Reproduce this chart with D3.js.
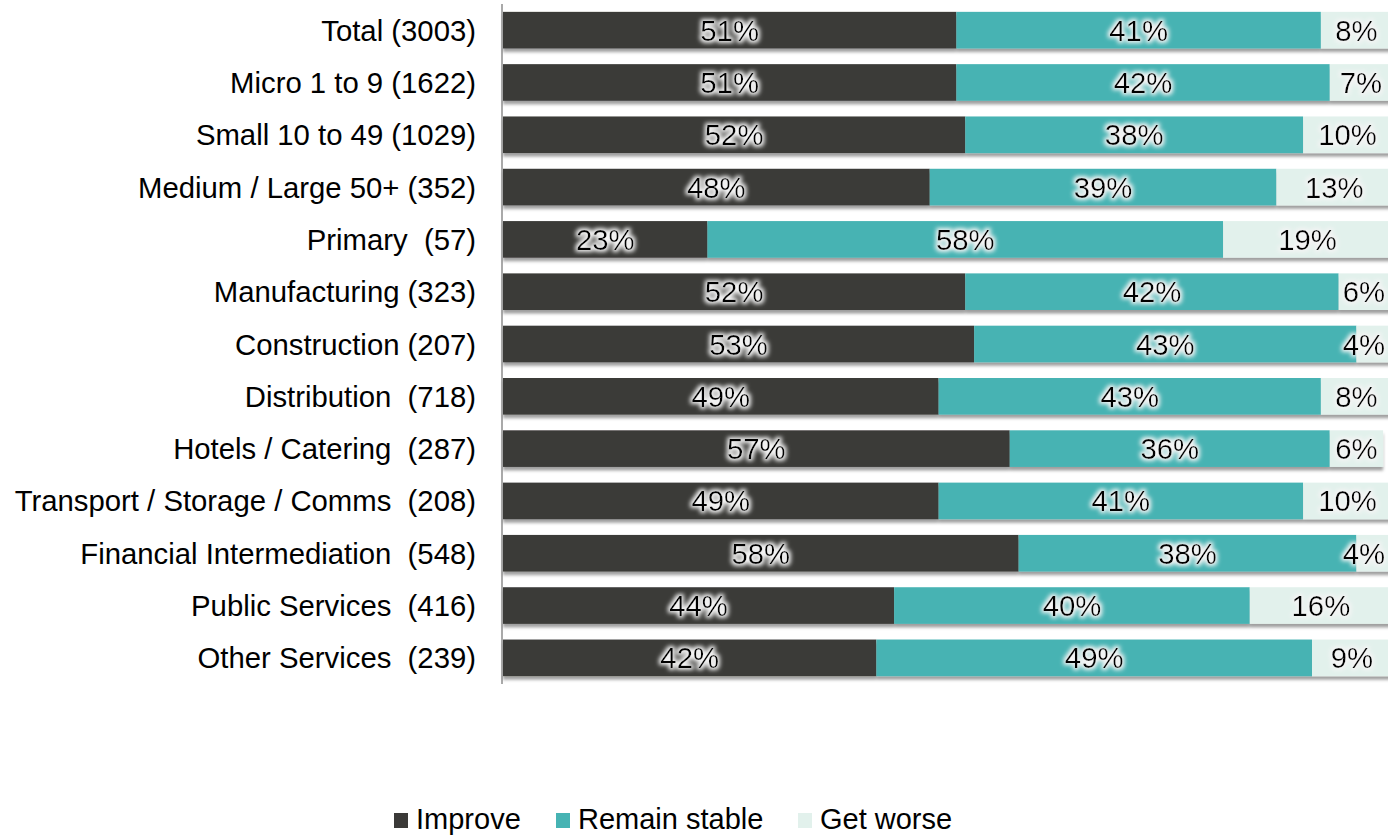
<!DOCTYPE html>
<html>
<head>
<meta charset="utf-8">
<script src="https://cdn.jsdelivr.net/npm/d3@7"></script>
<style>
  html, body { margin: 0; padding: 0; background: #fff; }
  svg { display: block; font-family: "Liberation Sans", Arial, sans-serif; }
</style>
</head>
<body>
<svg id="chart" width="1388" height="837"></svg>
<script>
// Outlook by business size and sector (share of respondents, %)
const categories = [
  "Total (3003)",
  "Micro 1 to 9 (1622)",
  "Small 10 to 49 (1029)",
  "Medium / Large 50+ (352)",
  "Primary  (57)",
  "Manufacturing (323)",
  "Construction (207)",
  "Distribution  (718)",
  "Hotels / Catering  (287)",
  "Transport / Storage / Comms  (208)",
  "Financial Intermediation  (548)",
  "Public Services  (416)",
  "Other Services  (239)"
];
const improve      = [51, 51, 52, 48, 23, 52, 53, 49, 57, 49, 58, 44, 42];
const remainStable = [41, 42, 38, 39, 58, 42, 43, 43, 36, 41, 38, 40, 49];
const getWorse     = [8, 7, 10, 13, 19, 6, 4, 8, 6, 10, 4, 16, 9];

const seriesNames  = ["Improve", "Remain stable", "Get worse"];
const seriesColors = ["#3b3a38", "#46b3b3", "#e2f1ec"];

const W = 1388;
const FONT = 29.3;
const svg = d3.select("#chart");

const rows = categories.map((c, i) => ({
  cat: c, Improve: improve[i], "Remain stable": remainStable[i], "Get worse": getWorse[i]
}));
const stacked = d3.stack().keys(seriesNames)(rows);

const x = d3.scaleLinear().domain([0, 100]).range([503, 1392]);
const y = d3.scaleBand().domain(categories).range([4, 684])
  .paddingInner(0.3).paddingOuter(0.15);

// filters: soft drop shadow under bars, white halo behind labels
const defs = svg.append("defs");
const sh = defs.append("filter").attr("id", "shadow")
  .attr("x", "-5%").attr("y", "-20%").attr("width", "110%").attr("height", "160%");
sh.append("feDropShadow").attr("dx", 0).attr("dy", 3.5)
  .attr("stdDeviation", 1.6).attr("flood-color", "#000").attr("flood-opacity", 0.38);

const glow = defs.append("filter").attr("id", "glow")
  .attr("x", "-20%").attr("y", "-30%").attr("width", "140%").attr("height", "160%");
glow.append("feMorphology").attr("in", "SourceAlpha").attr("operator", "dilate")
  .attr("radius", 1.8).attr("result", "dil");
glow.append("feGaussianBlur").attr("in", "dil").attr("stdDeviation", 2).attr("result", "blur");
glow.append("feFlood").attr("flood-color", "#f4f4f4").attr("flood-opacity", 1).attr("result", "white");
glow.append("feComposite").attr("in", "white").attr("in2", "blur").attr("operator", "in").attr("result", "halo");
const merge = glow.append("feMerge");
merge.append("feMergeNode").attr("in", "halo");
merge.append("feMergeNode").attr("in", "SourceGraphic");

// bars, one group per row so the shadow falls under the whole stacked bar
const barRows = svg.append("g").selectAll("g.row")
  .data(categories).join("g")
  .attr("class", "row")
  .attr("filter", "url(#shadow)");

barRows.each(function(cat, i) {
  const g = d3.select(this);
  stacked.forEach((s, k) => {
    const d = s[i];
    g.append("rect")
      .attr("x", x(d[0]))
      .attr("y", y(cat))
      .attr("width", x(d[1]) - x(d[0]))
      .attr("height", y.bandwidth())
      .attr("fill", seriesColors[k]);
  });
});

// value labels, centred in each segment and kept inside the canvas
const labels = svg.append("g").attr("font-size", FONT).attr("fill", "#000")
  .attr("text-anchor", "middle").attr("filter", "url(#glow)");
stacked.forEach((s) => {
  s.forEach((d, i) => {
    const t = labels.append("text")
      .attr("y", y(categories[i]) + y.bandwidth() / 2)
      .attr("dy", "0.36em")
      .text((d[1] - d[0]) + "%");
    const half = t.node().getComputedTextLength() / 2;
    const cx = Math.min((x(d[0]) + x(d[1])) / 2, W - half - 3);
    t.attr("x", cx);
  });
});

// category axis
const yAxis = d3.axisLeft(y).tickSize(0).tickPadding(26);
const ax = svg.append("g").attr("transform", "translate(502,0)").call(yAxis);
ax.select(".domain").attr("stroke", "#8c8c8c").attr("stroke-width", 1.5)
  .attr("d", `M0,4V684`);
ax.selectAll("text").attr("font-size", FONT).attr("fill", "#000")
  .attr("font-family", "Liberation Sans, Arial, sans-serif")
  .attr("dy", "0.36em")
  .style("white-space", "pre").attr("xml:space", "preserve");

// legend
const legendX = [394, 556, 798];
const legend = svg.append("g").attr("font-size", 29);
seriesNames.forEach((n, k) => {
  const lg = legend.append("g").attr("transform", `translate(${legendX[k]},813)`);
  lg.append("rect").attr("x", 0).attr("y", 0).attr("width", 14).attr("height", 15)
    .attr("fill", seriesColors[k]);
  lg.append("text").attr("x", 22).attr("y", 16).attr("fill", "#000").text(n);
});
</script>
</body>
</html>
